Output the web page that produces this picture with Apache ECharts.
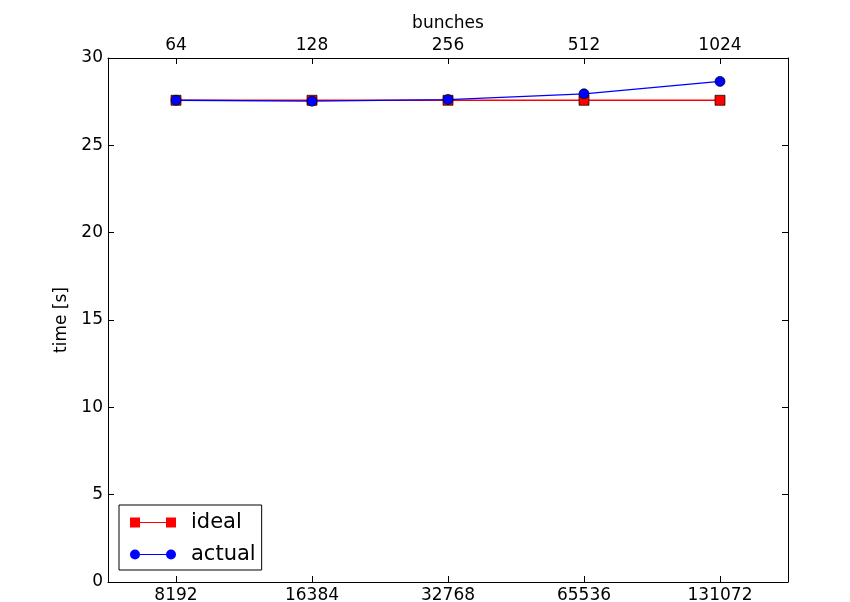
<!DOCTYPE html>
<html>
<head>
<meta charset="utf-8">
<script src="https://cdn.jsdelivr.net/npm/echarts@6/dist/echarts.min.js"></script>
<style>html,body{margin:0;padding:0;background:#fff;}#c{width:850px;height:602px;}</style>
</head>
<body>
<div id="c"></div>
<script>
const particles = ['8192', '16384', '32768', '65536', '131072'];
const bunches = ['64', '128', '256', '512', '1024'];
const idealTime = [27.58, 27.58, 27.58, 27.58, 27.58];
const actualTime = [27.58, 27.53, 27.62, 27.95, 28.66];
const yTicks = { min: 0, max: 30, interval: 5 };

const FONT = 'DejaVu Sans';
const chart = echarts.init(document.getElementById('c'), null, { renderer: 'canvas' });
const axisLine = { show: true, onZero: false, lineStyle: { color: '#000', width: 1 } };
const axisTick = { show: true, inside: true, length: 6, alignWithLabel: true, lineStyle: { color: '#000', width: 1 } };

chart.setOption({
  animation: false,
  backgroundColor: '#fff',
  grid: { left: 108, right: 62, top: 58, bottom: 20, containLabel: false, outerBoundsMode: 'none' },
  xAxis: [
    {
      type: 'category', position: 'bottom', data: particles, boundaryGap: true,
      axisLine, axisTick,
      axisLabel: { color: '#000', fontFamily: FONT, fontSize: 17, margin: 5 },
      splitLine: { show: false }
    },
    {
      type: 'category', position: 'top', data: bunches, boundaryGap: true,
      name: 'bunches', nameLocation: 'middle', nameGap: 22,
      nameTextStyle: { color: '#000', fontFamily: FONT, fontSize: 17 },
      axisLine, axisTick,
      axisLabel: { color: '#000', fontFamily: FONT, fontSize: 17, margin: 4 },
      splitLine: { show: false }
    }
  ],
  yAxis: [
    {
      type: 'value', position: 'left', min: yTicks.min, max: yTicks.max, interval: yTicks.interval,
      name: 'time [s]', nameLocation: 'middle', nameGap: 33,
      nameTextStyle: { color: '#000', fontFamily: FONT, fontSize: 17 },
      axisLine, axisTick: { show: true, inside: true, length: 6, lineStyle: { color: '#000', width: 1 } },
      axisLabel: { color: '#000', fontFamily: FONT, fontSize: 17, margin: 5 },
      splitLine: { show: false }
    },
    {
      type: 'value', position: 'right', min: yTicks.min, max: yTicks.max, interval: yTicks.interval,
      axisLine, axisTick: { show: true, inside: true, length: 6, lineStyle: { color: '#000', width: 1 } },
      axisLabel: { show: false },
      splitLine: { show: false }
    }
  ],
  legend: {
    left: 119, top: 505, orient: 'vertical',
    backgroundColor: '#fff', borderColor: '#000', borderWidth: 1, borderRadius: 0,
    padding: [7, 6, 5, 11], itemGap: 11,
    itemWidth: 46, itemHeight: 10,
    selectedMode: false,
    textStyle: {
      color: '#000', fontFamily: FONT, fontSize: 21,
      rich: { a: { fontFamily: FONT, fontSize: 21, color: '#000', padding: [0, 0, 0, 10] } }
    },
    formatter: function (n) { return '{a|' + n + '}'; },
    data: [
      { name: 'ideal', icon: 'path://M0,0h10v10h-10z M36,0h10v10h-10z M10,4.4h26v1.2h-26z', itemStyle: { color: '#ff0000', borderWidth: 0 } },
      { name: 'actual', icon: 'path://M0,5a5,5 0 1,0 10,0a5,5 0 1,0 -10,0z M36,5a5,5 0 1,0 10,0a5,5 0 1,0 -10,0z M10,4.4h26v1.2h-26z', itemStyle: { color: '#0000ff', borderWidth: 0 } }
    ]
  },
  series: [
    {
      name: 'ideal', type: 'line', xAxisIndex: 0, yAxisIndex: 0, data: idealTime,
      symbol: 'rect', symbolSize: 10, z: 2,
      lineStyle: { color: '#ff0000', width: 1.3 },
      itemStyle: { color: '#ff0000', borderColor: '#000', borderWidth: 0.7 }
    },
    {
      name: 'actual', type: 'line', xAxisIndex: 0, yAxisIndex: 0, data: actualTime,
      symbol: 'circle', symbolSize: 10, z: 3,
      lineStyle: { color: '#0000ff', width: 1.3 },
      itemStyle: { color: '#0000ff', borderColor: '#000', borderWidth: 0.7 }
    }
  ]
});
</script>
</body>
</html>
